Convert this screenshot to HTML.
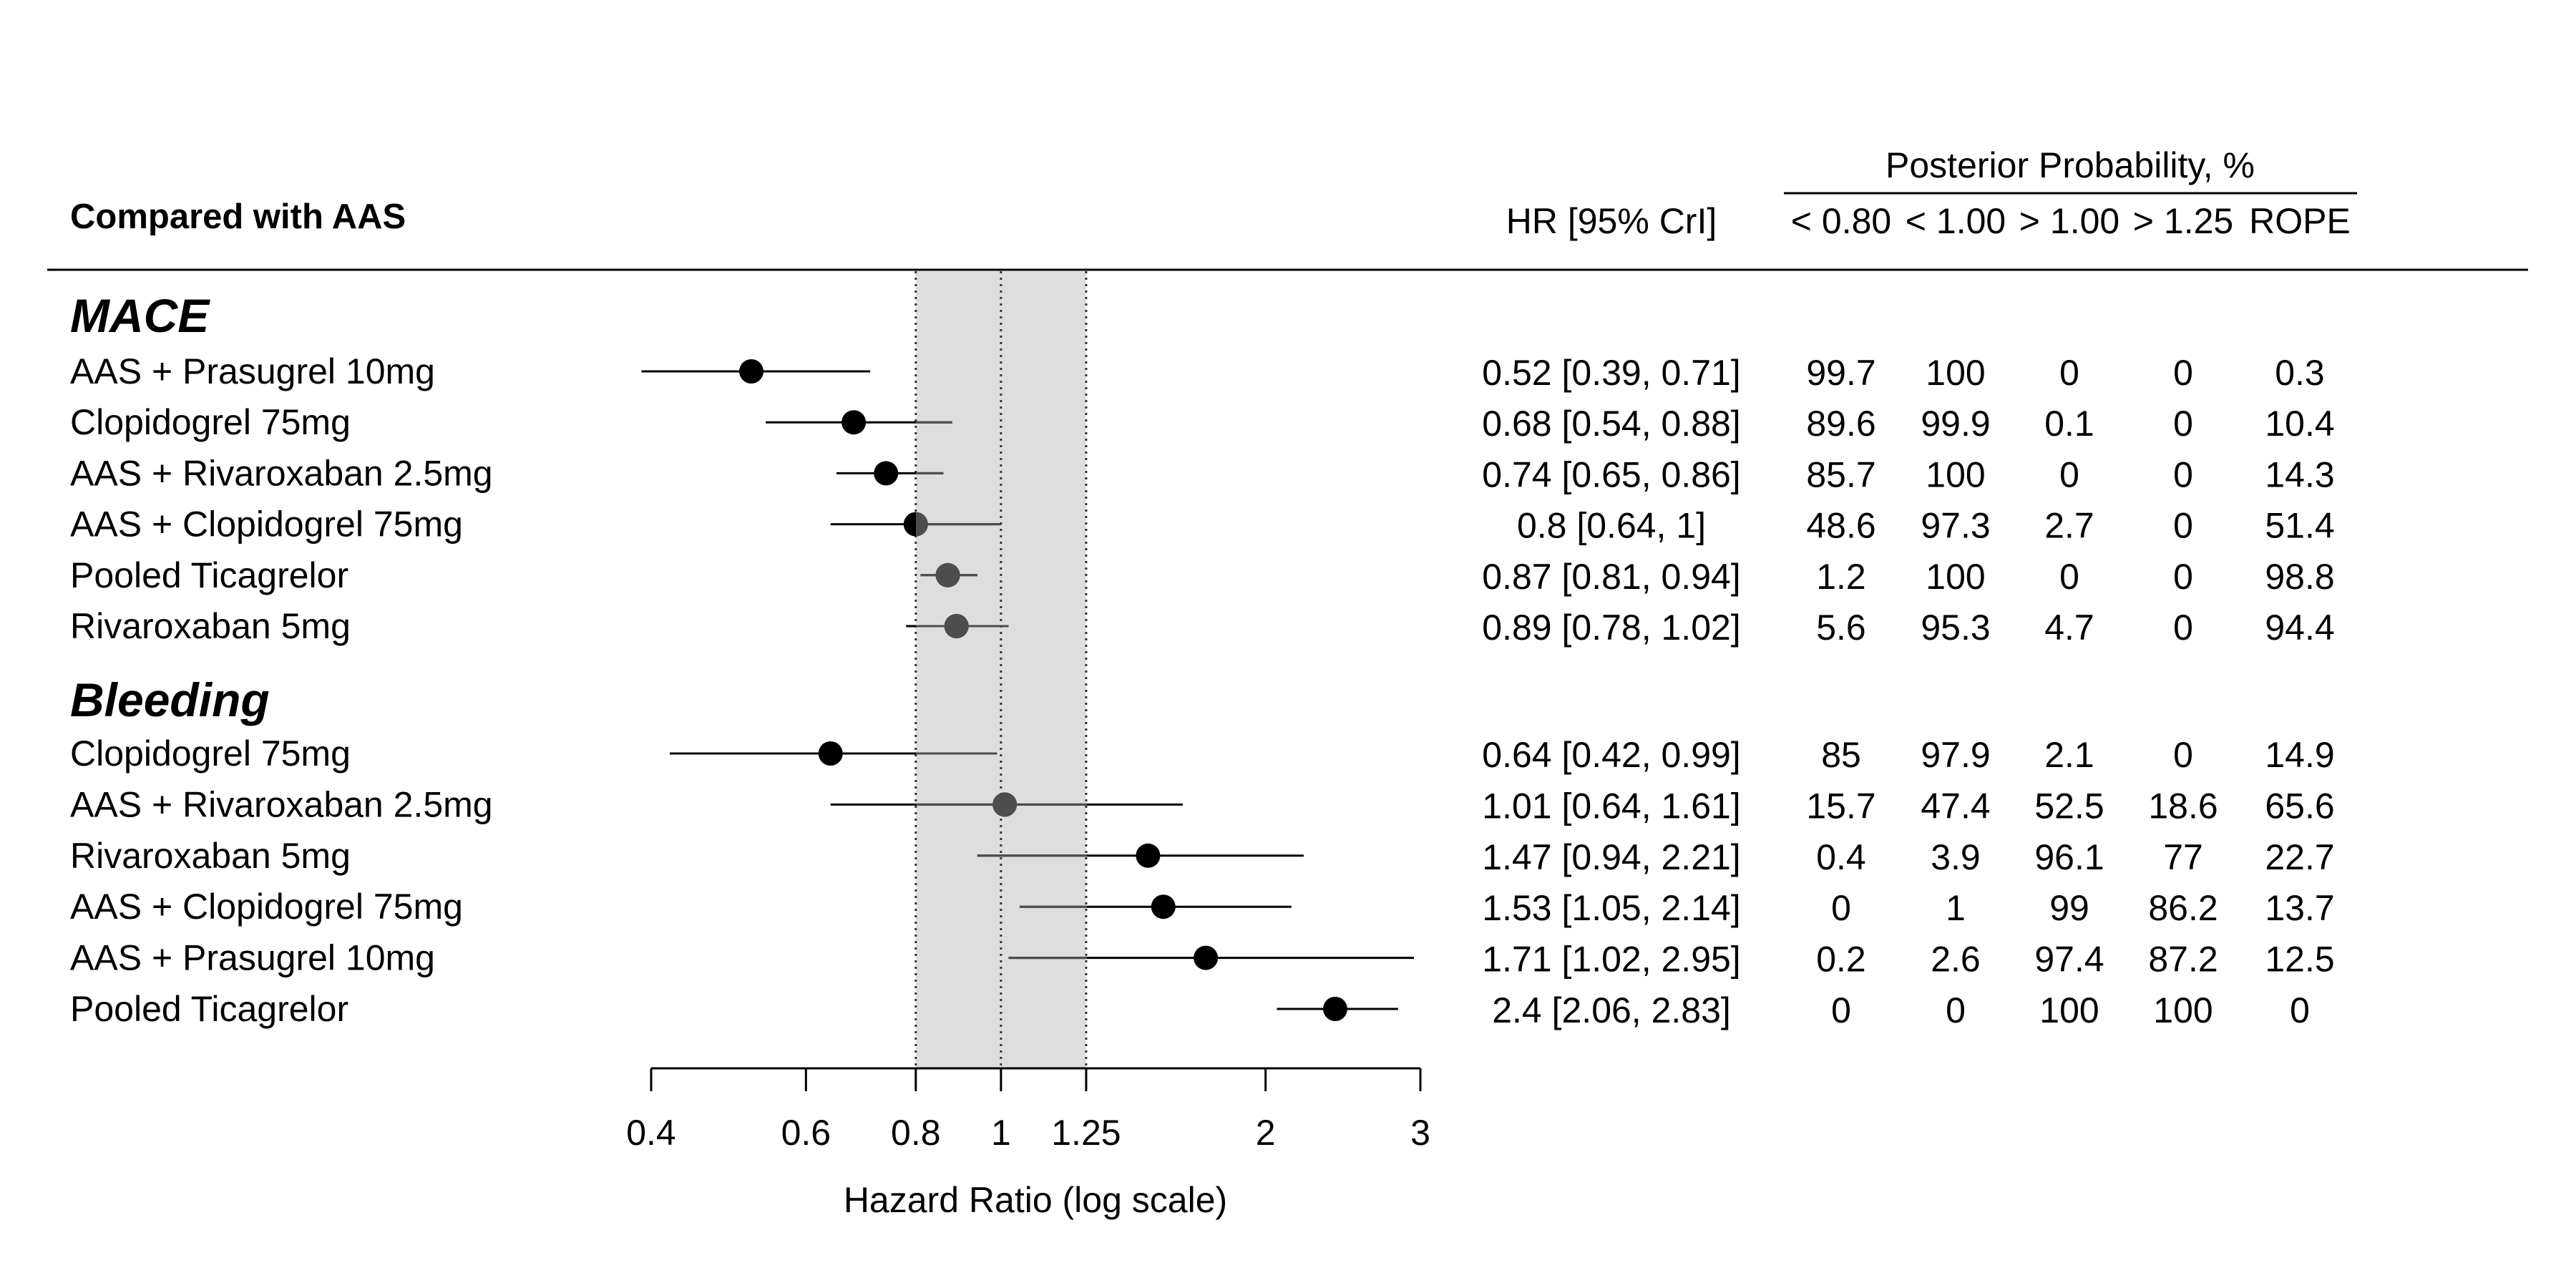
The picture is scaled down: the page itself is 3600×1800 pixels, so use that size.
<!DOCTYPE html>
<html><head><meta charset="utf-8"><style>
html,body{margin:0;padding:0;background:#fff;}
svg{display:block;font-family:"Liberation Sans",Arial,sans-serif;}
</style></head><body>
<svg id="chart" width="3600" height="1800" viewBox="0 0 3600 1800" xmlns="http://www.w3.org/2000/svg">
<defs><clipPath id="ropeClip"><rect x="1280" y="377" width="239" height="1116"/></clipPath></defs>
<g id="header" font-size="50">
<text x="98" y="319" font-weight="bold" font-size="49">Compared with AAS</text>
<text x="2252" y="326" text-anchor="middle">HR [95% CrI]</text>
<text x="2893" y="248" text-anchor="middle">Posterior Probability, %</text>
<line x1="2493" y1="270" x2="3294" y2="270" stroke="#000" stroke-width="3"/>
<text x="2573" y="326" text-anchor="middle">&lt; 0.80</text>
<text x="2733" y="326" text-anchor="middle">&lt; 1.00</text>
<text x="2892" y="326" text-anchor="middle">&gt; 1.00</text>
<text x="3051" y="326" text-anchor="middle">&gt; 1.25</text>
<text x="3214" y="326" text-anchor="middle">ROPE</text>
<line x1="66" y1="377" x2="3533" y2="377" stroke="#000" stroke-width="3"/>
</g>
<g id="plot"></g>
<g id="table" font-size="50"></g>
</svg>
<script>
const labels = ["AAS + Prasugrel 10mg","Clopidogrel 75mg","AAS + Rivaroxaban 2.5mg","AAS + Clopidogrel 75mg","Pooled Ticagrelor","Rivaroxaban 5mg","Clopidogrel 75mg","AAS + Rivaroxaban 2.5mg","Rivaroxaban 5mg","AAS + Clopidogrel 75mg","AAS + Prasugrel 10mg","Pooled Ticagrelor"];
const hr = [0.52,0.68,0.74,0.8,0.87,0.89,0.64,1.01,1.47,1.53,1.71,2.4];
const lo = [0.39,0.54,0.65,0.64,0.81,0.78,0.42,0.64,0.94,1.05,1.02,2.06];
const hi = [0.71,0.88,0.86,1,0.94,1.02,0.99,1.61,2.21,2.14,2.95,2.83];
const pLt080 = ["99.7","89.6","85.7","48.6","1.2","5.6","85","15.7","0.4","0","0.2","0"];
const pLt100 = ["100","99.9","100","97.3","100","95.3","97.9","47.4","3.9","1","2.6","0"];
const pGt100 = ["0","0.1","0","2.7","0","4.7","2.1","52.5","96.1","99","97.4","100"];
const pGt125 = ["0","0","0","0","0","0","0","18.6","77","86.2","87.2","100"];
const pRope = ["0.3","10.4","14.3","51.4","98.8","94.4","14.9","65.6","22.7","13.7","12.5","0"];
const hrText = ["0.52 [0.39, 0.71]","0.68 [0.54, 0.88]","0.74 [0.65, 0.86]","0.8 [0.64, 1]","0.87 [0.81, 0.94]","0.89 [0.78, 1.02]","0.64 [0.42, 0.99]","1.01 [0.64, 1.61]","1.47 [0.94, 2.21]","1.53 [1.05, 2.14]","1.71 [1.02, 2.95]","2.4 [2.06, 2.83]"];
const ticks = [0.4,0.6,0.8,1,1.25,2,3];
const tickLabels = ["0.4","0.6","0.8","1","1.25","2","3"];
const ropeBounds = [0.8,1.25];
const groups = ["MACE","Bleeding"];

const NS="http://www.w3.org/2000/svg";
const X0=910,X1=1985,DMIN=0.4,DMAX=3;
function xs(v){return X0+(Math.log(v)-Math.log(DMIN))/(Math.log(DMAX)-Math.log(DMIN))*(X1-X0);}
function ys(i){return i<6?519+i*71.2:1053+(i-6)*71.4;}
function mk(tag,attrs,parent){const e=document.createElementNS(NS,tag);for(const k in attrs)e.setAttribute(k,attrs[k]);parent.appendChild(e);return e;}
const plot=document.getElementById('plot'),table=document.getElementById('table');
const AY=1493;
const rx0=xs(ropeBounds[0]),rx1=xs(ropeBounds[1]);
let r=mk('rect',{x:rx0,y:379,width:rx1-rx0,height:AY-379,fill:'#dedede'},plot);


[ropeBounds[0],1,ropeBounds[1]].forEach(v=>{
 const l=mk('line',{x1:xs(v),y1:379,x2:xs(v),y2:AY,stroke:'#333','stroke-width':3,'stroke-dasharray':'3 6'},plot);
 
 
});
for(let i=0;i<hr.length;i++){
 const y=ys(i);
 const g=mk('g',{},plot);
 
 
 mk('line',{x1:xs(lo[i]),y1:y,x2:xs(hi[i]),y2:y,stroke:'#000','stroke-width':3},g);
 mk('circle',{cx:xs(hr[i]),cy:y,r:17,fill:'#000'},g);
 const gc=mk('g',{'clip-path':'url(#ropeClip)'},g);
 mk('line',{x1:xs(lo[i]),y1:y,x2:xs(hi[i]),y2:y,stroke:'#4d4d4d','stroke-width':3},gc);
 mk('circle',{cx:xs(hr[i]),cy:y,r:17,fill:'#4d4d4d'},gc);
 const t=mk('text',{x:98,y:y+17,'font-size':50},table);t.textContent=labels[i];
 
 
 const cols=[[2252,hrText],[2573,pLt080],[2733,pLt100],[2892,pGt100],[3051,pGt125],[3214,pRope]];
 cols.forEach(c=>{const tt=mk('text',{x:c[0],y:y+19,'text-anchor':'middle'},table);tt.textContent=c[1][i];
  
  });
}
[[groups[0],464],[groups[1],1001]].forEach(gp=>{
 const t=mk('text',{x:98,y:gp[1],'font-size':66,'font-weight':'bold','font-style':'italic'},table);t.textContent=gp[0];
 
 
});
const ax=mk('line',{x1:X0,y1:AY,x2:X1,y2:AY,stroke:'#000','stroke-width':3},plot);


ticks.forEach((v,k)=>{
 const l=mk('line',{x1:xs(v),y1:AY,x2:xs(v),y2:1525,stroke:'#000','stroke-width':3},plot);
 
 
 const t=mk('text',{x:xs(v),y:1600,'text-anchor':'middle','font-size':50},plot);t.textContent=tickLabels[k];
 
 
});
const at=mk('text',{x:1447,y:1694,'text-anchor':'middle','font-size':50},plot);at.textContent="Hazard Ratio (log scale)";


</script>
</body></html>
